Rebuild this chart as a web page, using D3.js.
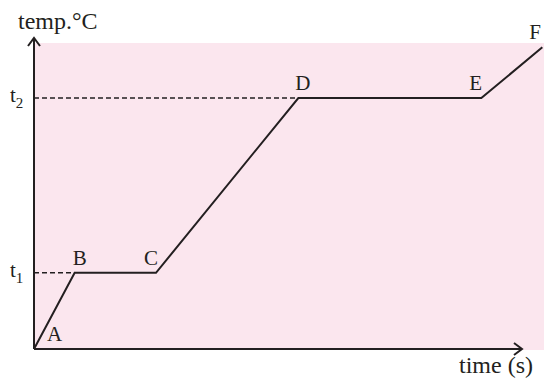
<!DOCTYPE html>
<html>
<head>
<meta charset="utf-8">
<script src="https://cdn.jsdelivr.net/npm/d3@7"></script>
<style>
  body { margin: 0; background: #fff; }
  svg { display: block; }
</style>
</head>
<body>
<div id="chart"></div>
<script>
// heating curve points (time in arbitrary units, temperature in arbitrary units)
const pointLabels = ['A', 'B', 'C', 'D', 'E', 'F'];
const timeValues = [0, 1, 3, 6.5, 11, 12.5];
const tempValues = [0, 24.5, 24.5, 80.7, 80.7, 97];
const levelLabels = ['1', '2'];
const levelTemps = [24.5, 80.7];
const levelPoints = ['B', 'D'];

const width = 544, height = 379;
const margin = { top: 38, right: 22, bottom: 30, left: 34 };
const FONT = 'Liberation Serif';
const ink = '#231f20';

const svg = d3.select('#chart').append('svg')
  .attr('width', width)
  .attr('height', height);

const x = d3.scaleLinear()
  .domain([0, 12])
  .range([margin.left, width - margin.right]);
const y = d3.scaleLinear()
  .domain([0, 100])
  .range([height - margin.bottom, margin.top]);

// pink background panel
svg.append('rect')
  .attr('x', x(0) + 1)
  .attr('y', 43)
  .attr('width', width - x(0) - 1)
  .attr('height', y(0) - 43 + 1)
  .attr('fill', '#fbe6ee');

const data = pointLabels.map((label, i) => ({ label, t: timeValues[i], temp: tempValues[i] }));

// dashed guide lines at t1, t2
levelTemps.forEach((temp, i) => {
  const pt = data.find(d => d.label === levelPoints[i]);
  svg.append('line')
    .attr('x1', x(0)).attr('x2', x(pt.t))
    .attr('y1', y(temp)).attr('y2', y(temp))
    .attr('stroke', ink)
    .attr('stroke-width', 1.6)
    .attr('stroke-dasharray', '5,3');

  const lab = svg.append('text')
    .attr('x', 10)
    .attr('y', y(temp) + 4)
    .attr('font-family', FONT)
    .attr('font-size', 21)
    .attr('fill', ink);
  lab.append('tspan').text('t');
  lab.append('tspan').attr('dy', 6).attr('font-size', 15).text(levelLabels[i]);
});

// curve
const line = d3.line().x(d => x(d.t)).y(d => y(d.temp));
svg.append('path')
  .datum(data)
  .attr('d', line)
  .attr('fill', 'none')
  .attr('stroke', ink)
  .attr('stroke-width', 2)
  .attr('stroke-linejoin', 'miter');

// point labels
const labelOffsets = {
  A: [13, -8], B: [-2, -8], C: [-12, -8], D: [-3, -8], E: [-12, -8], F: [-13, -8]
};
svg.selectAll('.pt-label')
  .data(data)
  .enter()
  .append('text')
  .attr('class', 'pt-label')
  .attr('x', d => x(d.t) + labelOffsets[d.label][0])
  .attr('y', d => y(d.temp) + labelOffsets[d.label][1])
  .attr('font-family', FONT)
  .attr('font-size', 21)
  .attr('fill', ink)
  .text(d => d.label);

// axes with arrow heads
svg.append('line')
  .attr('x1', x(0)).attr('x2', x(0))
  .attr('y1', y(0)).attr('y2', y(100))
  .attr('stroke', ink).attr('stroke-width', 2);
svg.append('line')
  .attr('x1', x(0)).attr('x2', x(12))
  .attr('y1', y(0)).attr('y2', y(0))
  .attr('stroke', ink).attr('stroke-width', 2);

svg.append('path')
  .attr('d', `M${x(0) - 6},${y(100) + 8} L${x(0)},${y(100)} L${x(0) + 6},${y(100) + 8}`)
  .attr('fill', 'none').attr('stroke', ink).attr('stroke-width', 2);
svg.append('path')
  .attr('d', `M${x(12) - 8},${y(0) - 6} L${x(12)},${y(0)} L${x(12) - 8},${y(0) + 6}`)
  .attr('fill', 'none').attr('stroke', ink).attr('stroke-width', 2);

// axis titles
svg.append('text')
  .attr('x', 18).attr('y', 29)
  .attr('font-family', FONT)
  .attr('font-size', 24)
  .attr('fill', ink)
  .text('temp.°C');
svg.append('text')
  .attr('x', 459).attr('y', 373)
  .attr('font-family', FONT)
  .attr('font-size', 24)
  .attr('fill', ink)
  .text('time (s)');
</script>
</body>
</html>
